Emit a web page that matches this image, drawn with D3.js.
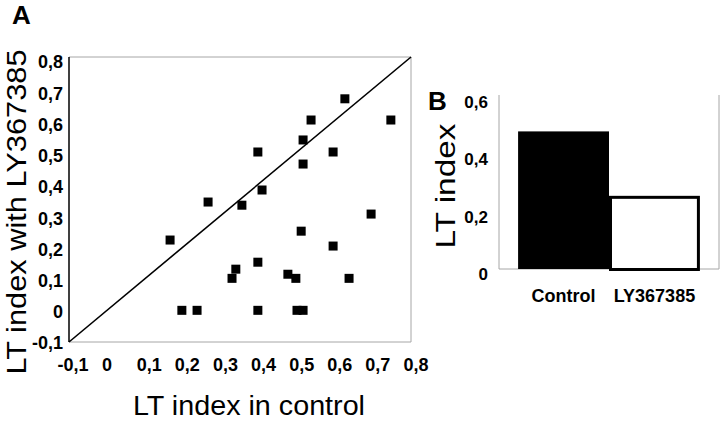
<!DOCTYPE html>
<html>
<head>
<meta charset="utf-8">
<script src="https://cdn.jsdelivr.net/npm/d3@7/dist/d3.min.js"></script>
<style>
  html, body { margin: 0; padding: 0; background: #fff; }
  svg { display: block; font-family: "Liberation Sans", Arial, sans-serif; }
</style>
</head>
<body>
<svg id="chart" width="720" height="422"></svg>
<script>
// ---- Panel A data ----
const controlLT = [0.266, 0.355, 0.397, 0.408, 0.516, 0.537, 0.516, 0.595, 0.626, 0.747, 0.695, 0.511, 0.166,
                   0.595, 0.397, 0.339, 0.329, 0.476, 0.497, 0.637, 0.197, 0.237, 0.397, 0.500, 0.516];
const lyLT      = [0.342, 0.332, 0.500, 0.380, 0.538, 0.601, 0.462, 0.500, 0.668, 0.601, 0.304, 0.250, 0.222,
                   0.203, 0.152, 0.130, 0.101, 0.114, 0.101, 0.101, 0.000, 0.000, 0.000, 0.000, 0.000];
const tickValuesA = [-0.1, 0, 0.1, 0.2, 0.3, 0.4, 0.5, 0.6, 0.7, 0.8];
const tickLabelsA = ["-0,1", "0", "0,1", "0,2", "0,3", "0,4", "0,5", "0,6", "0,7", "0,8"];

// ---- Panel B data ----
const barCategories = ["Control", "LY367385"];
const barValues = [0.48, 0.25];
const tickValuesB = [0, 0.2, 0.4, 0.6];
const tickLabelsB = ["0", "0,2", "0,4", "0,6"];

const svg = d3.select("#chart");

// ===== Panel A =====
const xA = d3.scaleLinear().domain([-0.1, 0.8]).range([69, 411]);
const yA = d3.scaleLinear().domain([-0.1, 0.8]).range([342, 57]);
// label placement scales (labels sit slightly right/below the ticks in the original)
const xLab = d3.scaleLinear().domain([-0.1, 0.8]).range([73, 416]);
const yLab = d3.scaleLinear().domain([-0.1, 0.8]).range([343, 62]);

const gA = svg.append("g");
// frame: gray top/right/bottom, black left
gA.append("line").attr("x1", xA(-0.1)).attr("x2", xA(0.8)).attr("y1", yA(0.8)).attr("y2", yA(0.8))
  .attr("stroke", "#a6a6a6").attr("stroke-width", 1);
gA.append("line").attr("x1", xA(0.8)).attr("x2", xA(0.8)).attr("y1", yA(0.8)).attr("y2", yA(-0.1))
  .attr("stroke", "#a6a6a6").attr("stroke-width", 1);
gA.append("line").attr("x1", xA(-0.1)).attr("x2", xA(0.8)).attr("y1", yA(-0.1)).attr("y2", yA(-0.1))
  .attr("stroke", "#a6a6a6").attr("stroke-width", 1);
gA.append("line").attr("x1", xA(-0.1)).attr("x2", xA(-0.1)).attr("y1", yA(0.8)).attr("y2", yA(-0.1))
  .attr("stroke", "#000").attr("stroke-width", 1.5);

// diagonal identity line
gA.append("line").attr("x1", xA(-0.1)).attr("y1", yA(-0.1)).attr("x2", xA(0.8)).attr("y2", yA(0.8))
  .attr("stroke", "#000").attr("stroke-width", 1.6);

// points
const sq = 9;
gA.selectAll("rect.pt").data(controlLT.map((c, i) => ({x: c, y: lyLT[i]})))
  .enter().append("rect").attr("class", "pt")
  .attr("x", d => xA(d.x) - sq / 2).attr("y", d => yA(d.y) - sq / 2)
  .attr("width", sq).attr("height", sq).attr("fill", "#000");

// tick labels
gA.selectAll("text.yt").data(tickValuesA).enter().append("text").attr("class", "yt")
  .attr("x", 63).attr("y", d => yLab(d)).attr("dy", "0.36em")
  .attr("text-anchor", "end").attr("font-weight", "bold").attr("font-size", 18)
  .text((d, i) => tickLabelsA[i]);
gA.selectAll("text.xt").data(tickValuesA).enter().append("text").attr("class", "xt")
  .attr("x", d => d === 0 ? xA(d) : xLab(d)).attr("y", 365).attr("dy", "0.36em")
  .attr("text-anchor", "middle").attr("font-weight", "bold").attr("font-size", 18)
  .text((d, i) => tickLabelsA[i]);

// axis titles
gA.append("text").attr("x", 249).attr("y", 415).attr("text-anchor", "middle")
  .attr("font-size", 27).attr("textLength", 232).attr("lengthAdjust", "spacingAndGlyphs")
  .text("LT index in control");
gA.append("text").attr("transform", "translate(26,212) rotate(-90)").attr("text-anchor", "middle")
  .attr("font-size", 27).attr("textLength", 325).attr("lengthAdjust", "spacingAndGlyphs")
  .text("LT index with LY367385");

// panel letter
svg.append("text").attr("x", 12).attr("y", 24).attr("font-weight", "bold").attr("font-size", 26).text("A");

// ===== Panel B =====
const xB = d3.scaleBand().domain(barCategories).range([499, 719]).paddingInner(0).paddingOuter(0.21);
const yB = d3.scaleLinear().domain([0, 0.6]).range([269, 97]);
const gB = svg.append("g");

// frame lines
gB.append("line").attr("x1", 499).attr("x2", 499).attr("y1", 95).attr("y2", yB(0))
  .attr("stroke", "#a6a6a6").attr("stroke-width", 1);
gB.append("line").attr("x1", 719).attr("x2", 719).attr("y1", 95).attr("y2", yB(0))
  .attr("stroke", "#a6a6a6").attr("stroke-width", 1);
gB.append("line").attr("x1", 499).attr("x2", 719).attr("y1", yB(0)).attr("y2", yB(0))
  .attr("stroke", "#a6a6a6").attr("stroke-width", 1);

// bars
gB.append("rect").attr("x", xB("Control")).attr("y", yB(barValues[0]))
  .attr("width", xB.bandwidth()).attr("height", yB(0) - yB(barValues[0])).attr("fill", "#000");
gB.append("rect").attr("x", xB("LY367385") + 1.5).attr("y", yB(barValues[1]))
  .attr("width", xB.bandwidth() - 3).attr("height", yB(0) - yB(barValues[1]) + 0.5)
  .attr("fill", "#fff").attr("stroke", "#000").attr("stroke-width", 3);

// ticks labels
gB.selectAll("text.yt").data(tickValuesB).enter().append("text").attr("class", "yt")
  .attr("x", 488).attr("y", d => yB(d) + 5).attr("dy", "0.36em")
  .attr("text-anchor", "end").attr("font-weight", "bold").attr("font-size", 17)
  .text((d, i) => tickLabelsB[i]);
gB.selectAll("text.xc").data(barCategories).enter().append("text").attr("class", "xc")
  .attr("x", d => xB(d) + xB.bandwidth() / 2).attr("y", 296).attr("dy", "0.36em")
  .attr("text-anchor", "middle").attr("font-weight", "bold").attr("font-size", 18)
  .text(d => d);

gB.append("text").attr("transform", "translate(455,186) rotate(-90)").attr("text-anchor", "middle")
  .attr("font-size", 27).attr("textLength", 125).attr("lengthAdjust", "spacingAndGlyphs")
  .text("LT index");

svg.append("text").attr("x", 428).attr("y", 110).attr("font-weight", "bold").attr("font-size", 26).text("B");
</script>
</body>
</html>
